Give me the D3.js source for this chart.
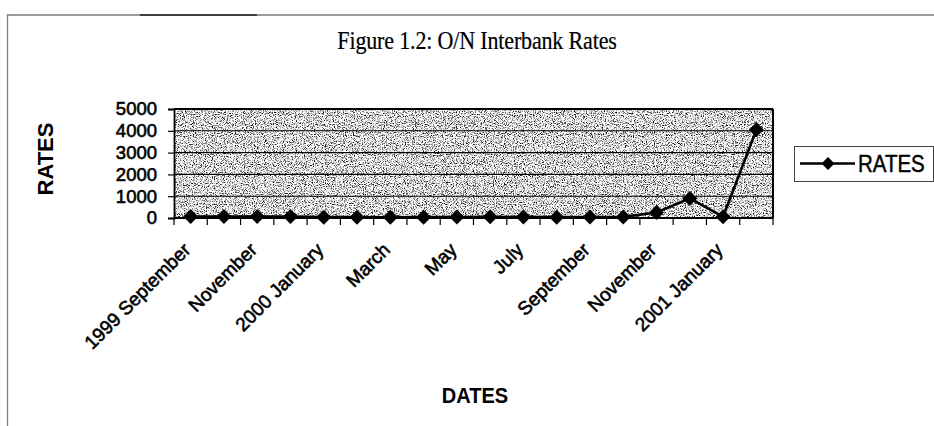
<!DOCTYPE html>
<html>
<head>
<meta charset="utf-8">
<script src="https://cdn.jsdelivr.net/npm/d3@7/dist/d3.min.js"></script>
<style>
  html, body { margin: 0; padding: 0; background: #fff; }
  svg { display: block; }
</style>
</head>
<body>
<svg id="chart" width="934" height="426"></svg>
<script>
// ---------------- data ----------------
const months = ["1999-09","1999-10","1999-11","1999-12","2000-01","2000-02","2000-03","2000-04","2000-05",
                "2000-06","2000-07","2000-08","2000-09","2000-10","2000-11","2000-12","2001-01","2001-02"];
const tickLabels = ["1999 September","","November","","2000 January","","March","","May",
                    "","July","","September","","November","","2001 January",""];
const rates = [70, 68, 66, 72, 40, 38, 36, 40, 42, 55, 42, 38, 45, 50, 250, 900, 60, 4050];
const yTicks = [0, 1000, 2000, 3000, 4000, 5000];
const seriesName = "RATES";
const titleText = "Figure 1.2: O/N Interbank Rates";
const xTitle = "DATES";
const yTitle = "RATES";

// ---------------- layout ----------------
const W = 934, H = 426;
const plot = { left: 174, right: 773, top: 109, bottom: 218 };
const sans = "'Liberation Sans', Arial, sans-serif";
const serif = "'Liberation Serif', 'Times New Roman', serif";

const svg = d3.select("#chart");

// grain filter for the scanned stipple background
const defs = svg.append("defs");
const f = defs.append("filter").attr("id", "grain")
  .attr("x", 0).attr("y", 0).attr("width", 1).attr("height", 1)
  .attr("color-interpolation-filters", "sRGB");
f.append("feTurbulence").attr("type", "fractalNoise").attr("baseFrequency", 0.9)
  .attr("numOctaves", 3).attr("seed", 11).attr("result", "n");
f.append("feColorMatrix").attr("type", "matrix")
  .attr("values", "1 0 0 0 0  1 0 0 0 0  1 0 0 0 0  0 0 0 0 1");
const ct = f.append("feComponentTransfer");
["feFuncR", "feFuncG", "feFuncB"].forEach(fn =>
  ct.append(fn).attr("type", "linear").attr("slope", 3.0).attr("intercept", -0.62));

// outer frame (scan edges)
svg.append("line").attr("x1", 7).attr("x2", W).attr("y1", 15).attr("y2", 15)
  .attr("stroke", "#777").attr("stroke-width", 1.3);
svg.append("line").attr("x1", 140).attr("x2", 257).attr("y1", 15).attr("y2", 15)
  .attr("stroke", "#222").attr("stroke-width", 1.5);
svg.append("line").attr("x1", 7.5).attr("x2", 7.5).attr("y1", 15).attr("y2", H)
  .attr("stroke", "#808080").attr("stroke-width", 1.3);

// title (slightly condensed look)
svg.append("text").attr("transform", "translate(477,49) scale(1,1.12)").attr("text-anchor", "middle")
  .attr("font-family", serif).attr("font-size", 22).attr("letter-spacing", -0.15)
  .attr("fill", "#000").attr("stroke", "#000").attr("stroke-width", 0.2).text(titleText);

// scales
const x = d3.scaleBand().domain(months).range([plot.left, plot.right]).padding(0);
const y = d3.scaleLinear().domain([0, 5000]).range([plot.bottom, plot.top]);
const cx = m => x(m) + x.bandwidth() / 2;

// plot background
svg.append("rect").attr("x", plot.left).attr("y", plot.top)
  .attr("width", plot.right - plot.left).attr("height", plot.bottom - plot.top)
  .attr("fill", "#c4c4c4").attr("filter", "url(#grain)");

// gridlines
svg.append("g").selectAll("line").data(yTicks.filter(t => t > 0)).join("line")
  .attr("x1", plot.left).attr("x2", plot.right)
  .attr("y1", d => y(d)).attr("y2", d => y(d))
  .attr("stroke", "#000").attr("stroke-width", d => d === 5000 ? 2 : 1.1);

// right border
svg.append("line").attr("x1", plot.right).attr("x2", plot.right)
  .attr("y1", plot.top).attr("y2", plot.bottom).attr("stroke", "#000").attr("stroke-width", 2);

// y axis
const yAxis = svg.append("g").attr("transform", `translate(${plot.left},0)`)
  .call(d3.axisLeft(y).tickValues(yTicks).tickFormat(d3.format("d")).tickSize(6).tickPadding(11));
yAxis.select(".domain").attr("stroke", "#000").attr("stroke-width", 1.8);
yAxis.selectAll(".tick line").attr("stroke", "#000").attr("stroke-width", 1.2);
yAxis.selectAll(".tick text").attr("font-family", sans).attr("font-size", 18.5)
  .attr("fill", "#000").attr("stroke", "#000").attr("stroke-width", 0.6);

// x axis line and boundary ticks
svg.append("line").attr("x1", plot.left).attr("x2", plot.right)
  .attr("y1", plot.bottom).attr("y2", plot.bottom).attr("stroke", "#000").attr("stroke-width", 2.2);
const bounds = months.map(m => x(m)).concat([plot.right]);
svg.append("g").selectAll("line").data(bounds).join("line")
  .attr("x1", d => d).attr("x2", d => d).attr("y1", plot.bottom).attr("y2", plot.bottom + 7)
  .attr("stroke", "#000").attr("stroke-width", 1.2);

// x labels
svg.append("g").selectAll("text").data(months.map((m, i) => ({ m, t: tickLabels[i] })).filter(d => d.t))
  .join("text")
  .attr("transform", d => `translate(${cx(d.m) + 1},${plot.bottom + 33}) rotate(-45)`)
  .attr("text-anchor", "end").attr("font-family", sans).attr("font-size", 19)
  .attr("fill", "#000").attr("stroke", "#000").attr("stroke-width", 0.6)
  .text(d => d.t);

// line series
const line = d3.line().x((d, i) => cx(months[i])).y(d => y(d));
svg.append("path").datum(rates).attr("d", line)
  .attr("fill", "none").attr("stroke", "#000").attr("stroke-width", 2.6).attr("stroke-linejoin", "round");

const diamond = r => `M0,${-r}L${r},0L0,${r}L${-r},0Z`;
svg.append("g").selectAll("path").data(rates).join("path")
  .attr("transform", (d, i) => `translate(${cx(months[i])},${y(d)})`)
  .attr("d", diamond(7.5)).attr("fill", "#000");

// axis titles
svg.append("text").attr("transform", `translate(53,159) rotate(-90)`)
  .attr("text-anchor", "middle").attr("font-family", sans).attr("font-weight", "bold")
  .attr("font-size", 22).attr("fill", "#000").text(yTitle);
svg.append("text").attr("transform", "translate(475,403) scale(1,1.1)").attr("text-anchor", "middle")
  .attr("font-family", sans).attr("font-weight", "bold").attr("font-size", 20)
  .attr("fill", "#000").text(xTitle);

// legend
const lg = svg.append("g");
lg.append("rect").attr("x", 794.5).attr("y", 146.5).attr("width", 139).attr("height", 35)
  .attr("fill", "#fff").attr("stroke", "#444").attr("stroke-width", 1);
lg.append("line").attr("x1", 800).attr("x2", 855).attr("y1", 163.5).attr("y2", 163.5)
  .attr("stroke", "#000").attr("stroke-width", 2.6);
lg.append("path").attr("transform", "translate(828,163.5)").attr("d", diamond(6.5)).attr("fill", "#000");
lg.append("text").attr("transform", "translate(858,171.5) scale(1,1.15)")
  .attr("font-family", sans).attr("font-size", 20.5)
  .attr("fill", "#000").attr("stroke", "#000").attr("stroke-width", 0.4).text(seriesName);
</script>
</body>
</html>
